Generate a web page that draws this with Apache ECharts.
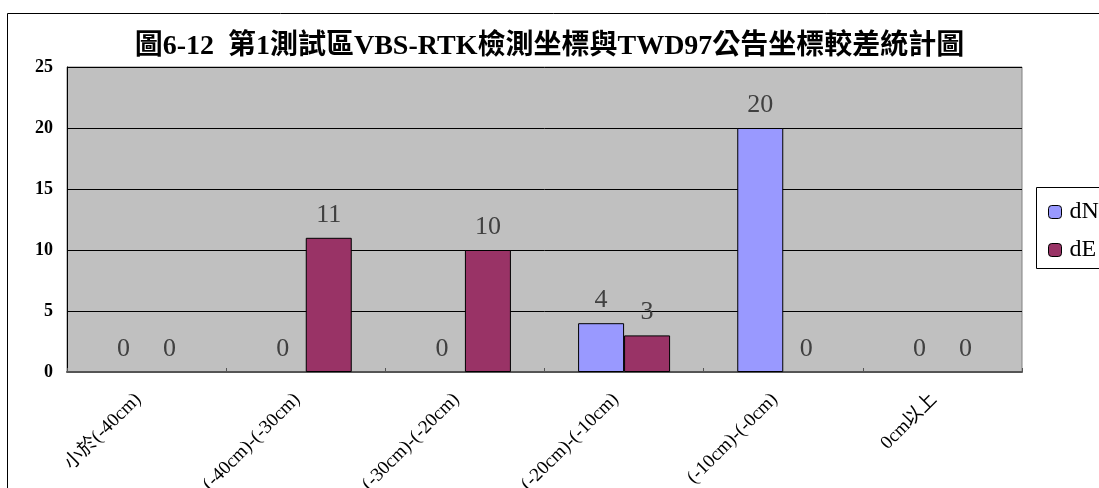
<!DOCTYPE html>
<html>
<head>
<meta charset="utf-8">
<script src="https://cdn.jsdelivr.net/npm/echarts@6/dist/echarts.min.js"></script>
<style>
html,body{margin:0;padding:0;background:#fff;}
#chart{width:1099px;height:488px;}
</style>
</head>
<body>
<div id="chart"></div>
<script>
const titleText = '圖6-12  第1測試區VBS-RTK檢測坐標與TWD97公告坐標較差統計圖';
const categories = ['小於(-40cm)', '(-40cm)-(-30cm)', '(-30cm)-(-20cm)', '(-20cm)-(-10cm)', '(-10cm)-(-0cm)', '0cm以上'];
const seriesNames = ['dN', 'dE'];
const dN = [0, 0, 0, 4, 20, 0];
const dE = [0, 11, 10, 3, 0, 0];
const yTicks = [0, 5, 10, 15, 20, 25];

// zero-height bars show only their label, no outline
const toData = arr => arr.map(v => v === 0 ? {value: v, itemStyle: {borderWidth: 0}} : v);

const chart = echarts.init(document.getElementById('chart'), null, {renderer: 'canvas'});
const labelStyle = {
  show: true, position: 'top', distance: 10,
  fontFamily: 'Liberation Serif', fontSize: 26, color: '#404040'
};
chart.setOption({
  animation: false,
  backgroundColor: '#ffffff',
  title: {
    text: titleText,
    left: 'center', top: 28,
    textStyle: {fontFamily: "'Liberation Serif','Noto Sans CJK TC'", fontWeight: 'bold', fontSize: 28, color: '#000'}
  },
  graphic: [{
    type: 'rect', silent: true, z: -1,
    shape: {x: 7.5, y: 13.5, width: 1200, height: 600},
    style: {fill: 'none', stroke: '#000', lineWidth: 1}
  }, {
    type: 'rect', silent: true, z: 0,
    shape: {x: 1036.5, y: 187.5, width: 120, height: 81},
    style: {fill: '#fff', stroke: '#000', lineWidth: 1}
  }],
  legend: {
    orient: 'vertical', left: 1036, top: 187, z: 10,
    data: seriesNames,
    padding: [13, 20, 13, 12],
    itemWidth: 13, itemHeight: 13, itemGap: 14,
    textStyle: {fontFamily: 'Liberation Serif', fontSize: 24, color: '#000', padding: [0, 0, 0, 3]},
    itemStyle: {borderColor: '#000', borderWidth: 1}
  },
  grid: {
    left: 67, right: 77, top: 67, bottom: 116,
    outerBoundsMode: 'none', containLabel: false,
    show: true, backgroundColor: '#C0C0C0', borderColor: '#808080', borderWidth: 1
  },
  xAxis: {
    type: 'category',
    data: categories,
    axisLine: {lineStyle: {color: '#555', width: 2}},
    axisTick: {show: true, inside: true, length: 4, lineStyle: {color: '#555'}},
    axisLabel: {rotate: 45, margin: 16, padding: [0, 12, 0, 0], interval: 0, hideOverlap: false,
      fontFamily: "'Liberation Serif','Noto Sans CJK TC'", fontSize: 19, color: '#000'}
  },
  yAxis: {
    type: 'value', min: yTicks[0], max: yTicks[yTicks.length - 1], interval: 5,
    axisLine: {show: true, lineStyle: {color: '#000'}},
    axisTick: {show: false},
    splitLine: {show: true, lineStyle: {color: '#000', width: 1}},
    axisLabel: {margin: 14, fontFamily: 'Liberation Serif', fontWeight: 'bold', fontSize: 18, color: '#000'}
  },
  series: [
    {name: 'dN', type: 'bar', data: toData(dN), barWidth: 46, barGap: 0,
     itemStyle: {color: '#9999FF', borderColor: '#000', borderWidth: 1},
     label: labelStyle},
    {name: 'dE', type: 'bar', data: toData(dE), barWidth: 46, barGap: 0,
     itemStyle: {color: '#993366', borderColor: '#000', borderWidth: 1},
     label: labelStyle}
  ]
});
</script>
</body>
</html>
